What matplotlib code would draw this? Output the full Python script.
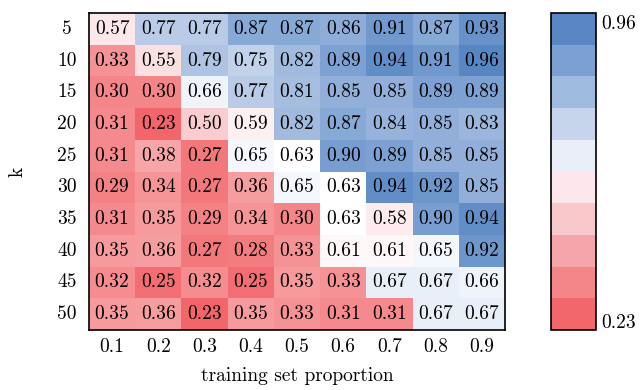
import numpy as np
import matplotlib
matplotlib.use('Agg')
import matplotlib.pyplot as plt
import seaborn as sns
from matplotlib.colors import ListedColormap, LinearSegmentedColormap, Normalize
from matplotlib.cm import ScalarMappable

# accuracy for each k (rows) and training set proportion (columns)
k_values = [5, 10, 15, 20, 25, 30, 35, 40, 45, 50]
proportions = ['0.1', '0.2', '0.3', '0.4', '0.5', '0.6', '0.7', '0.8', '0.9']
acc = np.array([
    [0.57, 0.77, 0.77, 0.87, 0.87, 0.86, 0.91, 0.87, 0.93],
    [0.33, 0.55, 0.79, 0.75, 0.82, 0.89, 0.94, 0.91, 0.96],
    [0.30, 0.30, 0.66, 0.77, 0.81, 0.85, 0.85, 0.89, 0.89],
    [0.31, 0.23, 0.50, 0.59, 0.82, 0.87, 0.84, 0.85, 0.83],
    [0.31, 0.38, 0.27, 0.65, 0.63, 0.90, 0.89, 0.85, 0.85],
    [0.29, 0.34, 0.27, 0.36, 0.65, 0.63, 0.94, 0.92, 0.85],
    [0.31, 0.35, 0.29, 0.34, 0.30, 0.63, 0.58, 0.90, 0.94],
    [0.35, 0.36, 0.27, 0.28, 0.33, 0.61, 0.61, 0.65, 0.92],
    [0.32, 0.25, 0.32, 0.25, 0.35, 0.33, 0.67, 0.67, 0.66],
    [0.35, 0.36, 0.23, 0.35, 0.33, 0.31, 0.31, 0.67, 0.67],
])

plt.rcParams['font.family'] = 'cmr10'
plt.rcParams['axes.unicode_minus'] = False
plt.rcParams['mathtext.fontset'] = 'cm'

vmin = acc.min()
vmax = acc.max()

# cells: smooth red -> white -> blue
cell_cmap = LinearSegmentedColormap.from_list('rwb', [
    (0.0, '#f2656a'), (0.1, '#f4878a'), (0.2, '#f7a4a7'), (0.37, '#f9cdd0'),
    (0.548, '#ffffff'), (0.603, '#e9eff8'), (0.74, '#b9cbe6'),
    (0.877, '#88a9d6'), (1.0, '#5786c3')])
# colorbar: 10 discrete steps
bar_colors = ['#f2676b', '#f48588', '#f6a6aa', '#f8c8cb', '#fce8ec',
              '#e8eff8', '#c6d5ec', '#a0bbe0', '#7ba0d1', '#5a87c4']

fig = plt.figure(figsize=(6.41, 3.90), dpi=100)
ax = fig.add_axes([89/641, 1 - 330/390, 416/641, 317/390])
cax = fig.add_axes([551/641, 1 - 330/390, 45/641, 317/390])

sns.heatmap(acc, ax=ax, cbar=False, cmap=cell_cmap, vmin=vmin, vmax=vmax,
            annot=True, fmt='.2f', annot_kws={'fontsize': 14, 'color': 'black'},
            xticklabels=proportions, yticklabels=k_values)

for sp in ax.spines.values():
    sp.set_visible(True)
    sp.set_linewidth(1.2)
    sp.set_color('black')

ax.tick_params(axis='x', length=0, labelsize=14, pad=6)
ax.tick_params(axis='y', length=0, labelsize=14, pad=16)
ax.set_yticklabels(k_values, rotation=0, ha='center')
ax.set_xlabel('training set proportion', fontsize=14, labelpad=8)
ax.set_ylabel('k', fontsize=14, labelpad=22)

sm = ScalarMappable(norm=Normalize(vmin, vmax), cmap=ListedColormap(bar_colors))
cbar = fig.colorbar(sm, cax=cax)
cbar.set_ticks([vmin + 0.02, vmax - 0.02])
cbar.set_ticklabels(['%.2f' % vmin, '%.2f' % vmax])
cbar.ax.tick_params(length=0, labelsize=14, pad=4)
cbar.outline.set_linewidth(1.2)
cbar.outline.set_edgecolor('black')

plt.savefig('out.png', dpi=100)
